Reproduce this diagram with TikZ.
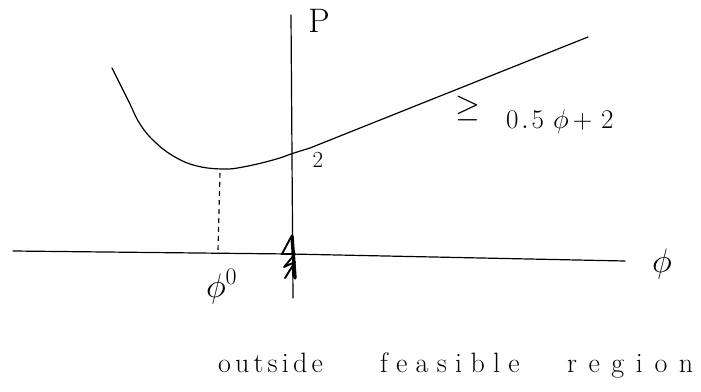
\RequirePackage{fix-cm}
\documentclass[tikz,border=0pt]{standalone}
\usepackage{fontspec}
\tikzset{
  pen/.style={line width=1.2pt, line cap=round, line join=round},
  lbl/.style={inner sep=0pt, outer sep=0pt},
}
\begin{document}
\begin{tikzpicture}[x=1pt,y=-1pt]
\useasboundingbox (0,0) rectangle (701,391);
% axes
\coordinate (hL) at (13,251);
\coordinate (hM) at (290,254);
\coordinate (hR) at (625,261);
\coordinate (vT) at (291,15);
\coordinate (vB) at (293,298);
\draw[pen] (hL) -- (hM) -- (hR);
\draw[pen] (vT) -- (vB);
% curve
\draw[pen] plot[smooth, tension=0.7] coordinates {(112,68) (128,100) (140,124) (155,142) (175,157) (197,166) (223,169) (243,167) (273,160) (294,153) (310,148)} -- (588,37);
% dashed drop
\coordinate (dT) at (220,173);
\coordinate (dB) at (218,250);
\draw[line width=1.1pt, dash pattern=on 5pt off 4pt] (dT) -- (dB);
% hatch on axis
\draw[line width=3.4pt, line cap=round] (292,236) -- (295,278);
\draw[line width=1.9pt, line cap=round, line join=round] (291,237) -- (282,254) -- (295,254) -- (284,267) -- (295,262) -- (285,278);
% labels
\node[lbl] (P) at (319,21) {\fontsize{34}{34}\selectfont P};
\node[lbl] (two) at (318,160) {\fontsize{23}{23}\selectfont 2};
\node[lbl] (geq) at (468,108) {\fontsize{32}{32}\selectfont $\geq$};
\node[lbl, anchor=base west] (eq) at (506,128) {\fontsize{27}{27}\selectfont $0\kern3pt.\kern3pt5\kern9pt\phi\kern4pt{+}\kern9pt2$};
\node[lbl, anchor=base west] (phi0) at (206,297) {\fontsize{34}{34}\selectfont $\phi^{0}$};
\node[lbl, anchor=base] (phi) at (662,272) {\fontsize{34}{34}\selectfont $\phi$};
\node[lbl, anchor=base west] (w1) at (218,372) {\fontsize{28}{28}\selectfont o\kern4.2pt u\kern4.2pt t\kern4.2pt s\kern4.2pt i\kern4.2pt d\kern4.2pt e};
\node[lbl, anchor=base west] (w2) at (380,372) {\fontsize{28}{28}\selectfont f\kern8.3pt e\kern8.3pt a\kern8.3pt s\kern8.3pt i\kern8.3pt b\kern8.3pt l\kern8.3pt e};
\node[lbl, anchor=base west] (w3) at (567,372) {\fontsize{28}{28}\selectfont r\kern11.6pt e\kern11.6pt g\kern11.6pt i\kern11.6pt o\kern11.6pt n};
\end{tikzpicture}
\end{document}
